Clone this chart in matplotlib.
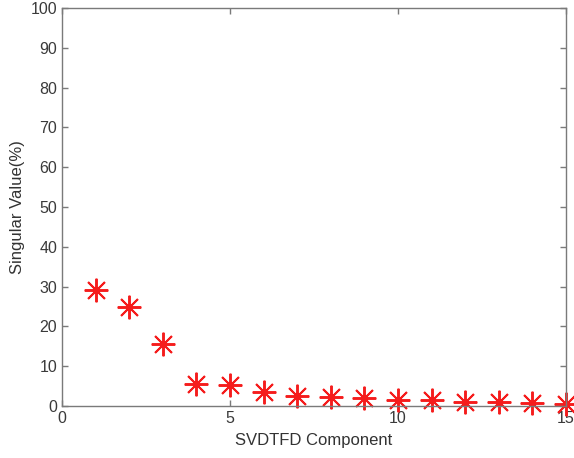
import matplotlib
matplotlib.use("Agg")
import matplotlib.pyplot as plt

plt.rcParams['font.family'] = ['Liberation Sans', 'DejaVu Sans']

components = [1, 2, 3, 4, 5, 6, 7, 8, 9, 10, 11, 12, 13, 14, 15]
singular_values = [29.1, 24.8, 15.5, 5.6, 5.3, 3.4, 2.6, 2.3, 1.9, 1.4, 1.4, 1.1, 1.1, 0.8, 0.4]
x_ticks = [0, 5, 10, 15]
y_ticks = list(range(0, 101, 10))

fig = plt.figure(figsize=(5.74, 4.58), dpi=100)
ax = fig.add_axes([0.108, 0.1135, 0.878, 0.869])

ax.plot(components, singular_values, linestyle='none', marker=(8, 2, 0),
        markersize=17, markeredgewidth=1.4, color='#f51c1c', clip_on=False)

ax.set_xlim(0, 15)
ax.set_ylim(0, 100)
ax.set_xticks(x_ticks)
ax.set_yticks(y_ticks)
ax.set_xlabel("SVDTFD Component", fontsize=12, color='#333333', labelpad=5)
ax.set_ylabel("Singular Value(%)", fontsize=12, color='#333333', labelpad=4)

for side in ax.spines.values():
    side.set_color('#7a7a7a')
    side.set_linewidth(1.0)
ax.tick_params(direction='in', length=4, width=1.0, color='#7a7a7a',
               labelsize=11.5, labelcolor='#3a3a3a', top=True, right=True,
               labeltop=False, labelright=False)

fig.savefig("out.png", dpi=100)
